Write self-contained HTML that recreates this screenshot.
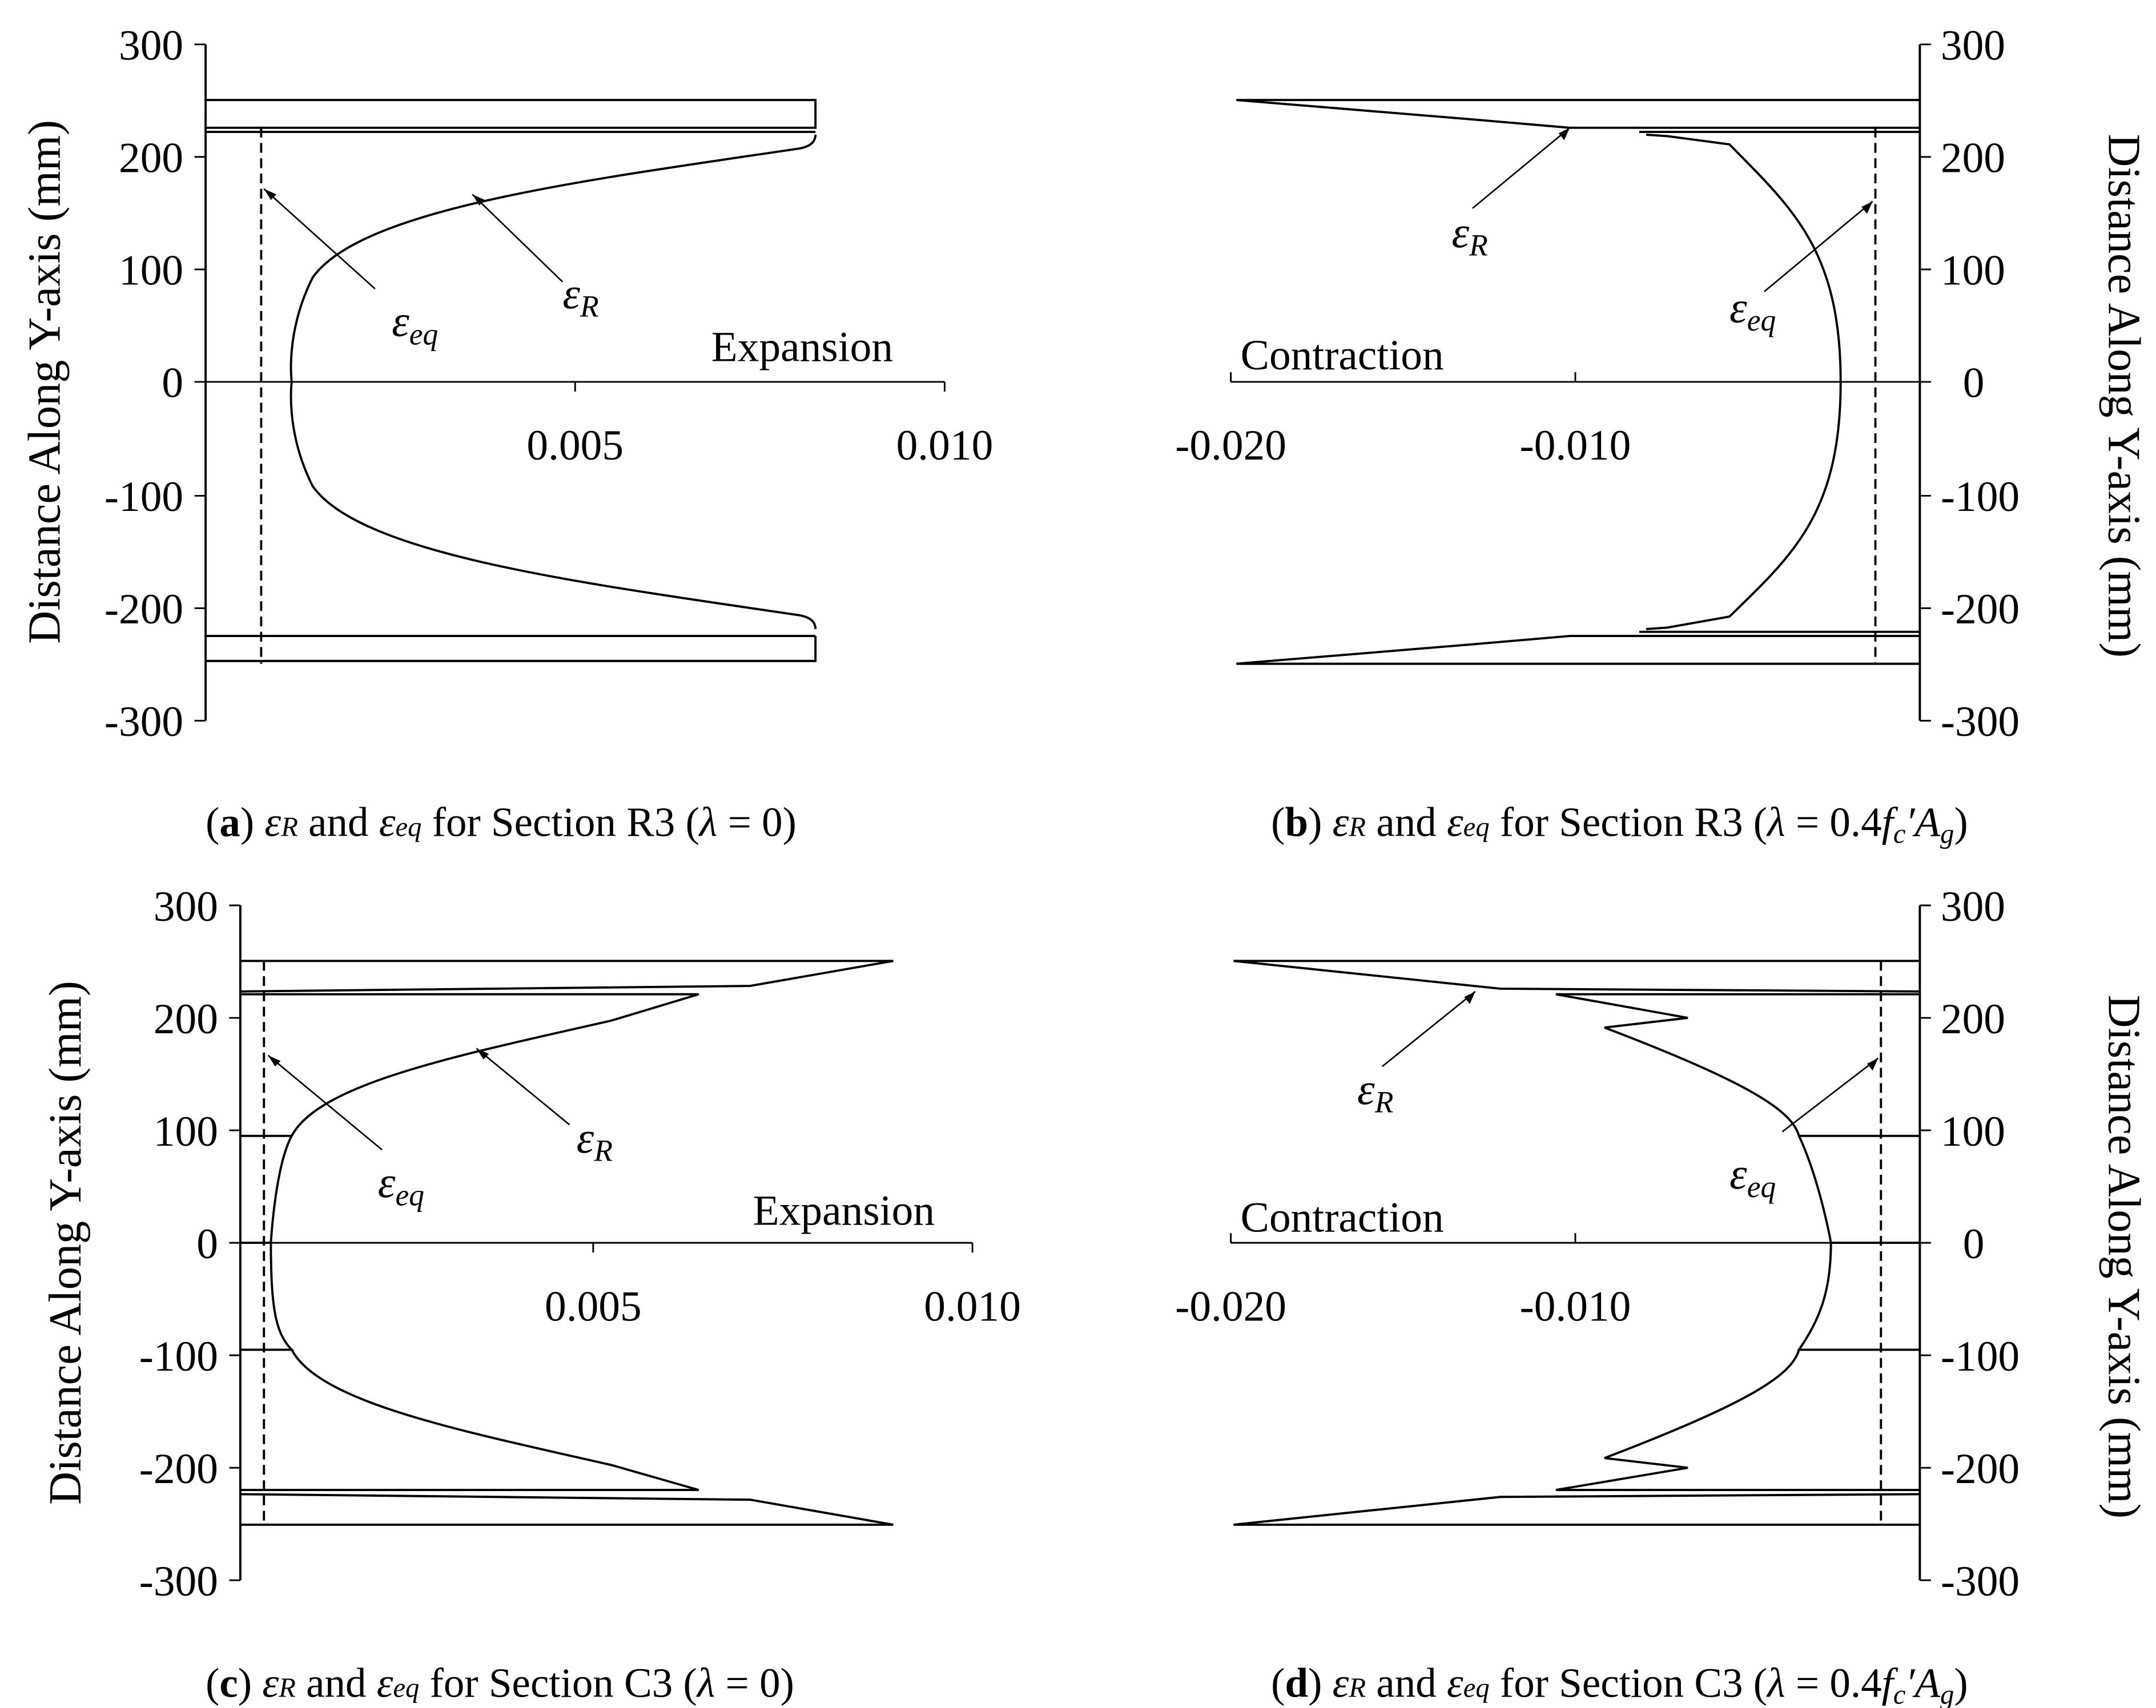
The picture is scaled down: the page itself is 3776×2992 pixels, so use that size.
<!DOCTYPE html>
<html><head><meta charset="utf-8"><style>
html,body{margin:0;padding:0;background:#fff;}
svg{display:block;}
text{font-family:"Liberation Serif",serif;fill:#000;}
</style></head><body>
<svg width="3776" height="2992" viewBox="0 0 1552 1230" preserveAspectRatio="none" xmlns="http://www.w3.org/2000/svg">
<g stroke="#000" stroke-width="1.6" fill="none">
<!-- Panel a -->
<line x1="148" y1="32" x2="148" y2="519"/>
<g stroke-width="1.2">
<line x1="140" y1="32" x2="148" y2="32"/><line x1="140" y1="113" x2="148" y2="113"/><line x1="140" y1="194" x2="148" y2="194"/><line x1="140" y1="275" x2="148" y2="275"/><line x1="140" y1="357" x2="148" y2="357"/><line x1="140" y1="438" x2="148" y2="438"/><line x1="140" y1="519" x2="148" y2="519"/>
<line x1="148" y1="275" x2="680" y2="275"/><line x1="414" y1="275" x2="414" y2="282"/><line x1="680" y1="275" x2="680" y2="282"/>
</g>
<path d="M148 72 H587 V92 H148 M148 95 H587 M148 458 H587 M148 476 H587 V458"/>
<path d="M587 97 Q587 105 575 107 C420 130 260 150 225 200 C205 240 210 275 210 275 C210 275 205 310 225 350 C260 400 420 420 575 443 Q587 445 587 453"/>
<line x1="188" y1="92" x2="188" y2="478" stroke-dasharray="7,4"/>
<!-- Panel b -->
<line x1="1382" y1="32" x2="1382" y2="519"/>
<g stroke-width="1.2">
<line x1="1382" y1="32" x2="1390" y2="32"/><line x1="1382" y1="113" x2="1390" y2="113"/><line x1="1382" y1="194" x2="1390" y2="194"/><line x1="1382" y1="275" x2="1390" y2="275"/><line x1="1382" y1="357" x2="1390" y2="357"/><line x1="1382" y1="438" x2="1390" y2="438"/><line x1="1382" y1="519" x2="1390" y2="519"/>
<line x1="886" y1="275" x2="1382" y2="275"/><line x1="886" y1="268" x2="886" y2="275"/><line x1="1134" y1="268" x2="1134" y2="275"/>
</g>
<path d="M1382 72 H890 L1060 86 L1130 92 H1382 M1382 95 H1180"/>
<path d="M1185 97 L1200 98 L1245 104 C1290 150 1325 180 1325 275 C1325 370 1290 400 1245 444 L1200 452 L1185 453"/>
<path d="M1382 478 H890 L1060 464 L1130 458 H1382 M1382 455 H1180"/>
<line x1="1350" y1="92" x2="1350" y2="478" stroke-dasharray="7,4"/>
<!-- Panel c -->
<line x1="173" y1="652" x2="173" y2="1138"/>
<g stroke-width="1.2">
<line x1="165" y1="652" x2="173" y2="652"/><line x1="165" y1="733" x2="173" y2="733"/><line x1="165" y1="814" x2="173" y2="814"/><line x1="165" y1="895" x2="173" y2="895"/><line x1="165" y1="976" x2="173" y2="976"/><line x1="165" y1="1057" x2="173" y2="1057"/><line x1="165" y1="1138" x2="173" y2="1138"/>
<line x1="173" y1="895" x2="700" y2="895"/><line x1="427" y1="895" x2="427" y2="902"/><line x1="700" y1="895" x2="700" y2="902"/>
</g>
<path d="M173 692 H643 L540 710 L173 714 M173 716 H503 L440 735 C330 760 230 780 210 818 L173 818 M210 818 C198 840 195 895 195 895 L173 895 M195 895 C195 940 198 960 210 972 L173 972 M210 972 C230 1010 330 1030 440 1055 L503 1073 H173 M173 1076 L540 1080 L643 1098 H173"/>
<line x1="190" y1="692" x2="190" y2="1098" stroke-dasharray="7,4"/>
<!-- Panel d -->
<line x1="1382" y1="652" x2="1382" y2="1138"/>
<g stroke-width="1.2">
<line x1="1382" y1="652" x2="1390" y2="652"/><line x1="1382" y1="733" x2="1390" y2="733"/><line x1="1382" y1="814" x2="1390" y2="814"/><line x1="1382" y1="895" x2="1390" y2="895"/><line x1="1382" y1="976" x2="1390" y2="976"/><line x1="1382" y1="1057" x2="1390" y2="1057"/><line x1="1382" y1="1138" x2="1390" y2="1138"/>
<line x1="886" y1="895" x2="1382" y2="895"/><line x1="886" y1="888" x2="886" y2="895"/><line x1="1134" y1="888" x2="1134" y2="895"/>
</g>
<path d="M1382 692 H888 L1080 712 L1382 714 M1382 716 H1120 L1215 733 L1155 740 C1260 780 1290 800 1295 818 H1382 M1295 818 C1310 850 1318 895 1318 895 H1382 M1318 895 C1318 930 1310 950 1295 972 H1382 M1295 972 C1290 990 1260 1010 1155 1050 L1215 1057 L1120 1073 H1382 M1382 1076 L1080 1078 L888 1098 H1382"/>
<line x1="1354" y1="692" x2="1354" y2="1098" stroke-dasharray="7,4"/>
<!-- arrows -->
<g stroke-width="1.1">
<line x1="270" y1="208" x2="190" y2="136"/><line x1="405" y1="203" x2="340" y2="140"/>
<line x1="1060" y1="150" x2="1130" y2="92"/><line x1="1270" y1="210" x2="1348" y2="145"/>
<line x1="275" y1="828" x2="193" y2="760"/><line x1="410" y1="810" x2="343" y2="755"/>
<line x1="995" y1="768" x2="1062" y2="714"/><line x1="1283" y1="815" x2="1352" y2="762"/>
</g>
</g>
<g fill="#000">
<polygon points="190,136 199,140 195,144"/><polygon points="340,140 349,144 345,148"/>
<polygon points="1130,92 1126,101 1122,96"/><polygon points="1348,145 1344,154 1340,149"/>
<polygon points="193,760 202,764 198,768"/><polygon points="343,755 352,759 348,763"/>
<polygon points="1062,714 1058,723 1054,718"/><polygon points="1352,762 1348,771 1344,766"/>
</g>
<g font-size="31" text-anchor="end">
<text x="132" y="43">300</text><text x="132" y="124">200</text><text x="132" y="205">100</text><text x="132" y="286">0</text><text x="132" y="368">-100</text><text x="132" y="449">-200</text><text x="132" y="530">-300</text>
<text x="157" y="663">300</text><text x="157" y="744">200</text><text x="157" y="825">100</text><text x="157" y="906">0</text><text x="157" y="987">-100</text><text x="157" y="1068">-200</text><text x="157" y="1149">-300</text>
</g>
<g font-size="31" text-anchor="start">
<text x="1397" y="43">300</text><text x="1397" y="124">200</text><text x="1397" y="205">100</text><text x="1413" y="286">0</text><text x="1397" y="368">-100</text><text x="1397" y="449">-200</text><text x="1397" y="530">-300</text>
<text x="1397" y="663">300</text><text x="1397" y="744">200</text><text x="1397" y="825">100</text><text x="1413" y="906">0</text><text x="1397" y="987">-100</text><text x="1397" y="1068">-200</text><text x="1397" y="1149">-300</text>
</g>
<g font-size="31" text-anchor="middle">
<text x="414" y="331">0.005</text><text x="680" y="331">0.010</text><text x="886" y="331">-0.020</text><text x="1134" y="331">-0.010</text>
<text x="427" y="951">0.005</text><text x="700" y="951">0.010</text><text x="886" y="951">-0.020</text><text x="1134" y="951">-0.010</text>
</g>
<g font-size="31">
<text x="512" y="260">Expansion</text><text x="893" y="266">Contraction</text>
<text x="542" y="882">Expansion</text><text x="893" y="887">Contraction</text>
</g>
<g font-size="32" font-style="italic">
<text x="282" y="242">ε<tspan font-size="22" dy="6">eq</tspan></text><text x="405" y="222">ε<tspan font-size="22" dy="6">R</tspan></text>
<text x="1045" y="178">ε<tspan font-size="22" dy="6">R</tspan></text><text x="1245" y="232">ε<tspan font-size="22" dy="6">eq</tspan></text>
<text x="272" y="862">ε<tspan font-size="22" dy="6">eq</tspan></text><text x="415" y="830">ε<tspan font-size="22" dy="6">R</tspan></text>
<text x="977" y="795">ε<tspan font-size="22" dy="6">R</tspan></text><text x="1245" y="856">ε<tspan font-size="22" dy="6">eq</tspan></text>
</g>
<g font-size="33" text-anchor="middle">
<text transform="translate(43,275) rotate(-90)">Distance Along Y-axis (mm)</text>
<text transform="translate(1518,285) rotate(90)">Distance Along Y-axis (mm)</text>
<text transform="translate(58,895) rotate(-90)">Distance Along Y-axis (mm)</text>
<text transform="translate(1518,905) rotate(90)">Distance Along Y-axis (mm)</text>
</g>
<g font-size="30">
<text x="148" y="602">(<tspan font-weight="bold">a</tspan>) <tspan font-style="italic">ε<tspan font-size="20">R</tspan></tspan> and <tspan font-style="italic">ε<tspan font-size="20">eq</tspan></tspan> for Section R3 (<tspan font-style="italic">λ</tspan> = 0)</text>
<text x="915" y="602">(<tspan font-weight="bold">b</tspan>) <tspan font-style="italic">ε<tspan font-size="20">R</tspan></tspan> and <tspan font-style="italic">ε<tspan font-size="20">eq</tspan></tspan> for Section R3 (<tspan font-style="italic">λ</tspan> = 0.4<tspan font-style="italic">f<tspan font-size="20" dy="5">c</tspan><tspan dy="-5">′A</tspan><tspan font-size="20" dy="5">g</tspan></tspan><tspan dy="-5">)</tspan></text>
<text x="148" y="1222">(<tspan font-weight="bold">c</tspan>) <tspan font-style="italic">ε<tspan font-size="20">R</tspan></tspan> and <tspan font-style="italic">ε<tspan font-size="20">eq</tspan></tspan> for Section C3 (<tspan font-style="italic">λ</tspan> = 0)</text>
<text x="915" y="1222">(<tspan font-weight="bold">d</tspan>) <tspan font-style="italic">ε<tspan font-size="20">R</tspan></tspan> and <tspan font-style="italic">ε<tspan font-size="20">eq</tspan></tspan> for Section C3 (<tspan font-style="italic">λ</tspan> = 0.4<tspan font-style="italic">f<tspan font-size="20" dy="5">c</tspan><tspan dy="-5">′A</tspan><tspan font-size="20" dy="5">g</tspan></tspan><tspan dy="-5">)</tspan></text>
</g>
</svg>
</body></html>
